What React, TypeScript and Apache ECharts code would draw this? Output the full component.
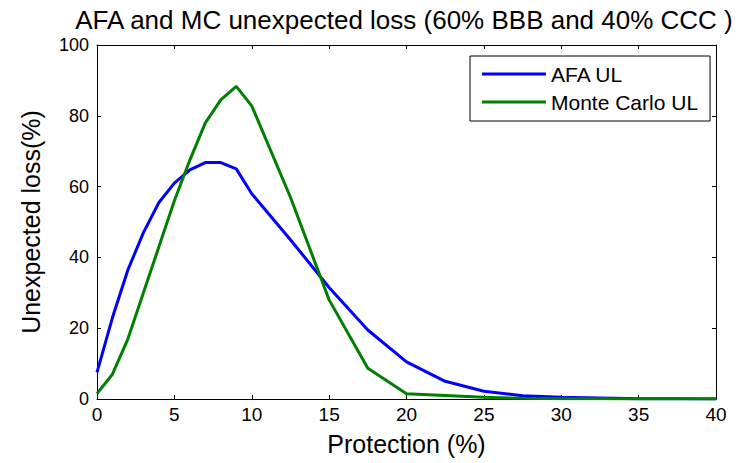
import React, { useEffect, useRef } from "react";
import * as echarts from "echarts";

const protection = [0, 1, 2, 3, 4, 5, 6, 7, 8, 9, 10, 12.5, 15, 17.5, 20, 22.5, 25, 27.5, 30, 32.5, 35, 37.5, 40];
const afaUL = [7.5, 23, 36.5, 47, 55.5, 61, 64.7, 66.8, 66.8, 65, 58, 45, 31.5, 19.5, 10.5, 5, 2.2, 0.9, 0.5, 0.3, 0.1, 0.05, 0.02];
const mcUL = [1.5, 7, 17, 30, 43, 56, 67.5, 78, 84.5, 88.3, 82.8, 57, 28, 8.7, 1.5, 1.0, 0.5, 0.2, 0.1, 0.05, 0.02, 0, 0];
const titleText = "AFA and MC unexpected loss (60% BBB and 40% CCC )";
const xName = "Protection (%)";
const yName = "Unexpected loss(%)";
const seriesNames = ["AFA UL", "Monte Carlo UL"];

const FONT = "Liberation Sans";

export default function App() {
  const ref = useRef<HTMLDivElement>(null);
  useEffect(() => {
    if (!ref.current) return;
    const chart = echarts.init(ref.current, null, { renderer: "svg" });
    const axisLine = { show: true, onZero: false, lineStyle: { color: "#000", width: 1 } };
    const tick = { show: true, inside: true, length: 4, lineStyle: { color: "#000" } };
    chart.setOption({
      animation: false,
      backgroundColor: "#fff",
      textStyle: { fontFamily: FONT },
      title: {
        text: titleText,
        left: 399,
        textAlign: "center",
        top: 2,
        textStyle: { fontFamily: FONT, fontSize: 26, fontWeight: "normal", color: "#000" },
      },
      grid: { left: 97, right: 22, top: 45, bottom: 64, containLabel: false },
      legend: {
        orient: "vertical",
        left: 470,
        top: 56,
        padding: [7, 12, 8, 12],
        icon: "rect",
        itemWidth: 64,
        itemHeight: 3,
        itemGap: 6,
        borderColor: "#000",
        borderWidth: 1,
        borderRadius: 0,
        backgroundColor: "#fff",
        textStyle: { fontFamily: FONT, fontSize: 21, color: "#000", lineHeight: 22 },
        data: seriesNames,
      },
      xAxis: [
        {
          type: "value",
          min: 0,
          max: 40,
          interval: 5,
          position: "bottom",
          name: xName,
          nameLocation: "middle",
          nameGap: 32,
          nameTextStyle: { fontFamily: FONT, fontSize: 25, color: "#000" },
          axisLine,
          axisTick: tick,
          axisLabel: { fontFamily: FONT, fontSize: 19, color: "#000", margin: 6 },
          splitLine: { show: false },
        },
        {
          type: "value",
          min: 0,
          max: 40,
          interval: 5,
          position: "top",
          axisLine,
          axisTick: tick,
          axisLabel: { show: false },
          splitLine: { show: false },
        },
      ],
      yAxis: [
        {
          type: "value",
          min: 0,
          max: 100,
          interval: 20,
          position: "left",
          name: yName,
          nameLocation: "middle",
          nameGap: 54,
          nameTextStyle: { fontFamily: FONT, fontSize: 25, color: "#000" },
          axisLine,
          axisTick: tick,
          axisLabel: { fontFamily: FONT, fontSize: 18, color: "#000", margin: 8 },
          splitLine: { show: false },
        },
        {
          type: "value",
          min: 0,
          max: 100,
          interval: 20,
          position: "right",
          axisLine,
          axisTick: tick,
          axisLabel: { show: false },
          splitLine: { show: false },
        },
      ],
      series: [
        {
          name: seriesNames[0],
          type: "line",
          xAxisIndex: 0,
          yAxisIndex: 0,
          symbol: "none",
          lineStyle: { color: "#0000ff", width: 3 },
          itemStyle: { color: "#0000ff" },
          data: protection.map((x, i) => [x, afaUL[i]]),
        },
        {
          name: seriesNames[1],
          type: "line",
          xAxisIndex: 0,
          yAxisIndex: 0,
          symbol: "none",
          lineStyle: { color: "#008000", width: 3 },
          itemStyle: { color: "#008000" },
          data: protection.map((x, i) => [x, mcUL[i]]),
        },
      ],
    });
    return () => chart.dispose();
  }, []);
  return (
    <div
      ref={ref}
      style={{ position: "fixed", left: 0, top: 0, width: 738, height: 463 }}
    />
  );
}
